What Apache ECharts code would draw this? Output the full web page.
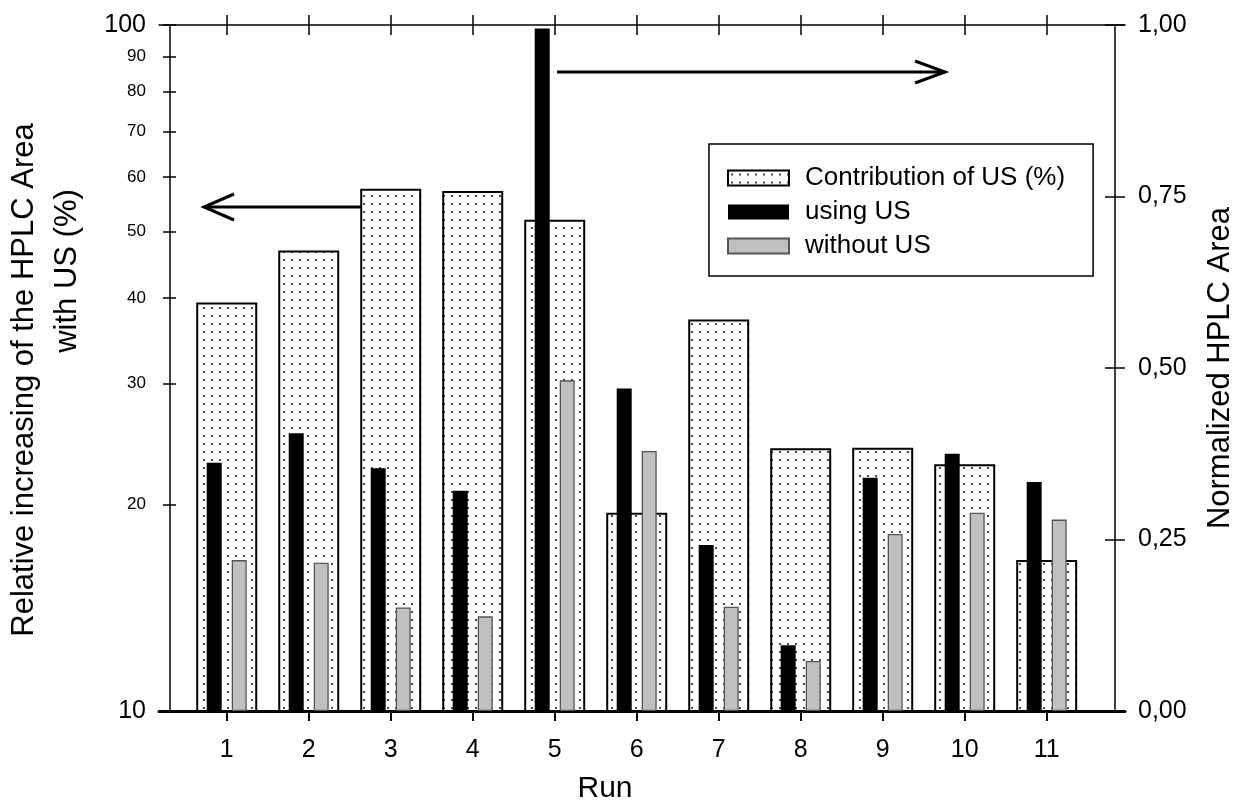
<!DOCTYPE html>
<html><head><meta charset="utf-8">
<script src="https://cdn.jsdelivr.net/npm/echarts@6/dist/echarts.min.js"></script>
<style>html,body{margin:0;padding:0;background:#fff}#c{width:1236px;height:803px}</style>
</head><body><div id="c"></div>
<script>
// ---- data ----
const runs = [1, 2, 3, 4, 5, 6, 7, 8, 9, 10, 11];
const contribution = [39.4, 46.9, 57.7, 57.3, 52.0, 19.45, 37.2, 24.15, 24.2, 22.9, 16.6];
const usingUS = [0.362, 0.405, 0.354, 0.321, 0.995, 0.470, 0.242, 0.096, 0.340, 0.375, 0.334];
const withoutUS = [0.220, 0.216, 0.151, 0.138, 0.482, 0.379, 0.152, 0.073, 0.258, 0.289, 0.279];
const leftTicks = [10, 20, 30, 40, 50, 60, 70, 80, 90, 100];
const seriesNames = ['Contribution of US (%)', 'using US', 'without US'];
const xTitle = 'Run';
const leftTitle1 = 'Relative increasing of the HPLC Area';
const leftTitle2 = 'with US (%)';
const rightTitle = 'Normalized HPLC Area';

const FONT = "'Liberation Sans', Arial, Helvetica, sans-serif";

// dotted pattern
const pat = document.createElement('canvas');
pat.width = 8; pat.height = 8;
const pc = pat.getContext('2d');
pc.fillStyle = '#fff'; pc.fillRect(0, 0, 8, 8);
pc.fillStyle = '#4a4a4a'; pc.fillRect(3, 3, 2, 2);

const X_MIN = 0.174, X_MAX = 11.955;

const chart = echarts.init(document.getElementById('c'), null, {renderer: 'canvas'});

const option = {
  animation: false,
  backgroundColor: '#fff',
  textStyle: {fontFamily: FONT, color: '#000'},
  grid: {left: 159, right: 111, top: 25, bottom: 92, containLabel: false, outerBoundsMode: 'none'},
  legend: {
    orient: 'vertical',
    left: 709, top: 144,
    padding: [21, 28, 17, 18],
    itemGap: 8,
    itemWidth: 61, itemHeight: 15,
    icon: 'rect',
    borderColor: '#000', borderWidth: 1.5,
    backgroundColor: '#fff',
    textStyle: {fontSize: 26, fontFamily: FONT, color: '#000', padding: [0, 0, 0, 11]},
    data: seriesNames
  },
  xAxis: [
    { // bottom axis with labels
      type: 'value', position: 'bottom', min: X_MIN, max: X_MAX,
      splitLine: {show: false},
      axisLine: {show: true, onZero: false, lineStyle: {color: '#000', width: 3}},
      axisTick: {show: true, inside: false, length: 10, customValues: runs, lineStyle: {color: '#000', width: 2}},
      axisLabel: {show: true, customValues: runs, fontSize: 25, margin: 27, color: '#000', fontFamily: FONT},
      name: xTitle, nameLocation: 'middle', nameGap: 63,
      nameTextStyle: {fontSize: 30, fontFamily: FONT, color: '#000', padding: [0, 74, 0, 0]}
    },
    { // top axis (inside ticks) - also base for dotted bars
      type: 'value', position: 'top', min: X_MIN, max: X_MAX,
      splitLine: {show: false},
      axisLine: {show: true, onZero: false, lineStyle: {color: '#000', width: 1.5}},
      axisTick: {show: true, inside: true, length: 10, customValues: runs, lineStyle: {color: '#000', width: 1.5}},
      axisLabel: {show: false}
    },
    { // top axis (outside ticks)
      type: 'value', position: 'top', min: X_MIN, max: X_MAX,
      splitLine: {show: false},
      axisLine: {show: false, onZero: false},
      axisTick: {show: true, inside: false, length: 10, customValues: runs, lineStyle: {color: '#000', width: 1.5}},
      axisLabel: {show: false}
    }
  ],
  yAxis: [
    { // left log axis with labels (outer ticks)
      type: 'log', logBase: 10, min: 10, max: 100, position: 'left', offset: -11,
      splitLine: {show: false},
      axisLine: {show: true, onZero: false, lineStyle: {color: '#000', width: 1.5}},
      axisTick: {show: true, inside: false, length: 7, customValues: leftTicks, lineStyle: {color: '#000', width: 1.5}},
      axisLabel: {
        show: true, customValues: leftTicks, margin: 24, color: '#000', fontFamily: FONT,
        formatter: function (v) {
          const r = Math.round(v);
          return (r === 10 || r === 100) ? '{b|' + r + '}' : '{s|' + r + '}';
        },
        rich: {b: {fontSize: 25, fontFamily: FONT, color: '#000'}, s: {fontSize: 17, fontFamily: FONT, color: '#000'}}
      }
    },
    { // left log axis inner ticks
      type: 'log', logBase: 10, min: 10, max: 100, position: 'left', offset: -11,
      splitLine: {show: false},
      axisLine: {show: false, onZero: false},
      axisTick: {show: true, inside: true, length: 6, customValues: leftTicks, lineStyle: {color: '#000', width: 1.5}},
      axisLabel: {show: false}
    },
    { // right linear axis with labels
      type: 'value', min: 0, max: 1, interval: 0.25, position: 'right', offset: -10,
      splitLine: {show: false},
      axisLine: {show: true, onZero: false, lineStyle: {color: '#000', width: 1.5}},
      axisTick: {show: true, inside: false, length: 10, lineStyle: {color: '#000', width: 1.5}},
      axisLabel: {
        show: true, margin: 23, fontSize: 25, color: '#000', fontFamily: FONT,
        formatter: function (v) { return v.toFixed(2).replace('.', ','); }
      }
    },
    { // right axis inner ticks
      type: 'value', min: 0, max: 1, interval: 0.25, position: 'right', offset: -10,
      splitLine: {show: false},
      axisLine: {show: false, onZero: false},
      axisTick: {show: true, inside: true, length: 10, lineStyle: {color: '#000', width: 1.5}},
      axisLabel: {show: false}
    }
  ],
  series: [
    {
      name: seriesNames[0], type: 'bar', xAxisIndex: 1, yAxisIndex: 0,
      barWidth: 61, clip: true, z: 1,
      itemStyle: {color: {image: pat, repeat: 'repeat'}, borderColor: '#000', borderWidth: 2},
      data: runs.map((r, i) => [r, contribution[i]])
    },
    {
      name: seriesNames[1], type: 'bar', xAxisIndex: 0, yAxisIndex: 2,
      barWidth: 15, barGap: '66.7%', clip: true, z: 3,
      itemStyle: {color: '#000', borderWidth: 0},
      data: runs.map((r, i) => [r, usingUS[i]])
    },
    {
      name: seriesNames[2], type: 'bar', xAxisIndex: 0, yAxisIndex: 2,
      barWidth: 15, barGap: '66.7%', clip: true, z: 3,
      itemStyle: {color: '#c0c0c0', borderColor: '#555', borderWidth: 1.3},
      data: runs.map((r, i) => [r, withoutUS[i]])
    }
  ],
  graphic: [
    {type: 'text', x: 24, y: 380, rotation: Math.PI / 2, z: 10,
      style: {text: leftTitle1, font: '31px ' + FONT, fill: '#000', textAlign: 'center', textVerticalAlign: 'middle', align: 'center', verticalAlign: 'middle'}},
    {type: 'text', x: 67, y: 271, rotation: Math.PI / 2, z: 10,
      style: {text: leftTitle2, font: '31px ' + FONT, fill: '#000', textAlign: 'center', textVerticalAlign: 'middle', align: 'center', verticalAlign: 'middle'}},
    {type: 'text', x: 1220, y: 368, rotation: Math.PI / 2, z: 10,
      style: {text: rightTitle, font: '31px ' + FONT, fill: '#000', textAlign: 'center', textVerticalAlign: 'middle', align: 'center', verticalAlign: 'middle'}},
    // left arrow
    {type: 'polyline', z: 10, shape: {points: [[362, 207], [204, 207]]}, style: {stroke: '#000', lineWidth: 3, fill: null}},
    {type: 'polyline', z: 10, shape: {points: [[234, 194], [204, 207], [234, 220]]}, style: {stroke: '#000', lineWidth: 3, fill: null}},
    // right arrow
    {type: 'polyline', z: 10, shape: {points: [[557, 72], [945, 72]]}, style: {stroke: '#000', lineWidth: 3, fill: null}},
    {type: 'polyline', z: 10, shape: {points: [[915, 61], [945, 72], [915, 83]]}, style: {stroke: '#000', lineWidth: 3, fill: null}}
  ]
};
chart.setOption(option);
</script>
</body></html>
